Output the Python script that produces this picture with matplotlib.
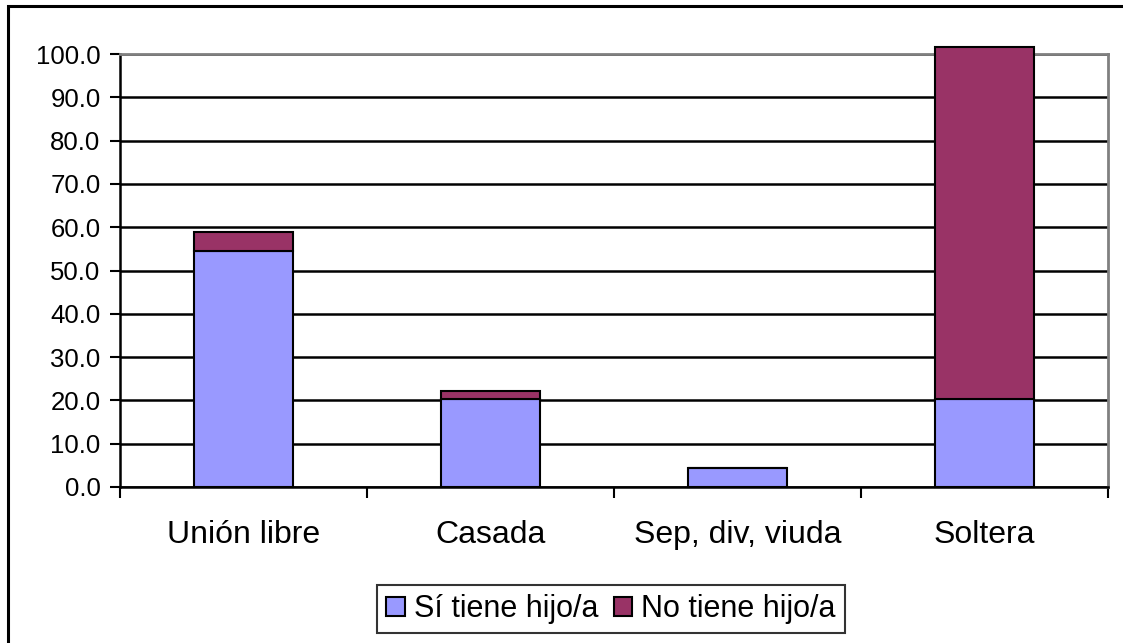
import numpy as np
import matplotlib.pyplot as plt
from matplotlib.patches import Rectangle

plt.rcParams['font.family'] = ['Liberation Sans', 'DejaVu Sans']

categorias = ['Unión libre', 'Casada', 'Sep, div, viuda', 'Soltera']
si_tiene = [54.5, 20.4, 4.3, 20.4]
no_tiene = [4.5, 1.8, 0.0, 81.2]
yticks = np.arange(0, 101, 10)

W, H = 1123, 643
fig = plt.figure(figsize=(W / 100, H / 100), dpi=100)
ax = fig.add_axes([120 / W, 1 - 487 / H, (1108 - 120) / W, (487 - 54) / H])

# marco exterior del grafico
fig.patches.append(Rectangle((8 / W, -0.1), 1.2, 1 - 6 / H + 0.1, transform=fig.transFigure,
                             fill=False, edgecolor='black', linewidth=2.2))

x = np.arange(len(categorias))
b1 = ax.bar(x, si_tiene, width=0.4, color='#9999FF', edgecolor='black', linewidth=1.5,
            label='Sí tiene hijo/a', zorder=3, clip_on=False)
b2 = ax.bar(x, no_tiene, width=0.4, bottom=si_tiene, color='#993366', edgecolor='black',
            linewidth=1.5, label='No tiene hijo/a', zorder=3, clip_on=False)

ax.set_xlim(-0.5, len(categorias) - 0.5)
ax.set_ylim(0, 100)
ax.set_yticks(yticks)
ax.set_yticklabels([f'{v:.1f}' for v in yticks], fontsize=18.5)
ax.yaxis.grid(True, color='black', linewidth=1.8, zorder=0)

ax.set_xticks(np.arange(len(categorias) + 1) - 0.5)
ax.set_xticklabels([])
ax.set_xticks(x, minor=True)
ax.set_xticklabels(categorias, minor=True, fontsize=23)
ax.tick_params(axis='x', which='major', length=8, width=1.5, direction='out')
ax.tick_params(axis='x', which='minor', length=0, pad=24)
ax.tick_params(axis='y', length=7, width=1.5, direction='out', pad=7)

for s in ['top', 'right']:
    ax.spines[s].set_color('#808080')
    ax.spines[s].set_linewidth(2)
for s in ['left', 'bottom']:
    ax.spines[s].set_color('black')
    ax.spines[s].set_linewidth(1.8)

leg = fig.legend(handles=[b1, b2], loc='center', bbox_to_anchor=(611 / W, 1 - 609 / H),
                 ncol=2, fontsize=22, frameon=True, fancybox=False, edgecolor='black',
                 handlelength=0.6, handleheight=0.6, handletextpad=0.3, columnspacing=0.5,
                 borderpad=0.3)
leg.get_frame().set_linewidth(1.5)

fig.savefig('out.png', dpi=100)
